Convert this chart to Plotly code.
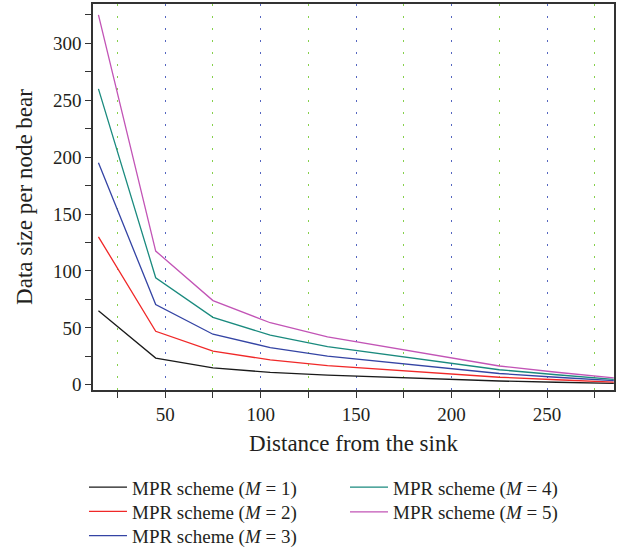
import plotly.graph_objects as go

# Distance of each ring from the sink and the data load per node for each M
distance = [15, 45, 75, 105, 135, 165, 195, 225, 255, 285]
m1 = [65, 23.5, 14.8, 10.9, 8.4, 6.7, 4.9, 3.3, 2.2, 1.2]
m2 = [130, 47, 29.6, 21.8, 16.8, 13.4, 9.8, 6.6, 4.4, 2.4]
m3 = [195, 70.5, 44.4, 32.7, 25.2, 20.1, 14.7, 9.9, 6.6, 3.6]
m4 = [260, 94, 59.2, 43.6, 33.6, 26.8, 19.6, 13.2, 8.8, 4.8]
m5 = [325, 117.5, 74, 54.5, 42, 33.5, 24.5, 16.5, 11, 6]

series_names = [
    "MPR scheme (<i>M</i> = 1)",
    "MPR scheme (<i>M</i> = 2)",
    "MPR scheme (<i>M</i> = 3)",
    "MPR scheme (<i>M</i> = 4)",
    "MPR scheme (<i>M</i> = 5)",
]
series_values = [m1, m2, m3, m4, m5]
series_colors = ["#1a1a1a", "#f02828", "#3444a4", "#1a8a7e", "#c254b6"]

FONT = "Liberation Serif"
INK = "#231f20"

# One legend box per entry, laid out in two columns below the axes
legend_ids = ["legend", "legend2", "legend3", "legend4", "legend5"]
legend_x = [-0.0173, -0.0173, -0.0173, 0.4837, 0.4837]
legend_y = [-0.2519, -0.3149, -0.3779, -0.2519, -0.3162]

fig = go.Figure()
for name, vals, color, lg in zip(series_names, series_values, series_colors, legend_ids):
    fig.add_trace(go.Scatter(
        x=distance, y=vals, mode="lines", name=name,
        line=dict(color=color, width=1.3), legend=lg,
    ))

legend_layout = {}
for lg, lx, ly in zip(legend_ids, legend_x, legend_y):
    legend_layout[lg] = dict(
        x=lx, xanchor="left", y=ly, yanchor="middle", orientation="v",
        font=dict(family=FONT, size=19, color=INK),
        bgcolor="rgba(0,0,0,0)", itemwidth=38,
    )

fig.update_layout(
    width=638, height=557,
    margin=dict(l=93, r=24, t=2, b=166),
    paper_bgcolor="white", plot_bgcolor="white",
    font=dict(family=FONT, color=INK, size=19),
    showlegend=True,
    **legend_layout,
)

fig.update_xaxes(
    range=[12.15, 285.1], tick0=0, dtick=50,
    showline=True, linecolor="#333333", linewidth=1.5, mirror=True,
    ticks="outside", ticklen=6, tickwidth=1, tickcolor="#333333",
    tickfont=dict(family=FONT, size=19, color=INK),
    showgrid=True, gridcolor="#5466c0", gridwidth=1, griddash="2px,10px",
    minor=dict(dtick=25, tick0=0, ticks="outside", ticklen=6, tickwidth=1,
               tickcolor="#333333", showgrid=True, gridcolor="#86d04c",
               gridwidth=1, griddash="2px,10px"),
    zeroline=False,
    title=dict(text="Distance from the sink", font=dict(family=FONT, size=23, color=INK),
               standoff=11),
)
fig.update_yaxes(
    range=[-4.6, 334.6], tick0=0, dtick=50,
    showline=True, linecolor="#333333", linewidth=1.5, mirror=True,
    ticks="outside", ticklen=6, tickwidth=1, tickcolor="#333333",
    tickfont=dict(family=FONT, size=19, color=INK),
    showgrid=False, zeroline=False,
    minor=dict(dtick=25, tick0=0, ticks="outside", ticklen=6, tickwidth=1,
               tickcolor="#333333", showgrid=False),
    title=dict(text="Data size per node bear", font=dict(family=FONT, size=23, color=INK),
               standoff=14),
)

fig.write_html("out.html")
